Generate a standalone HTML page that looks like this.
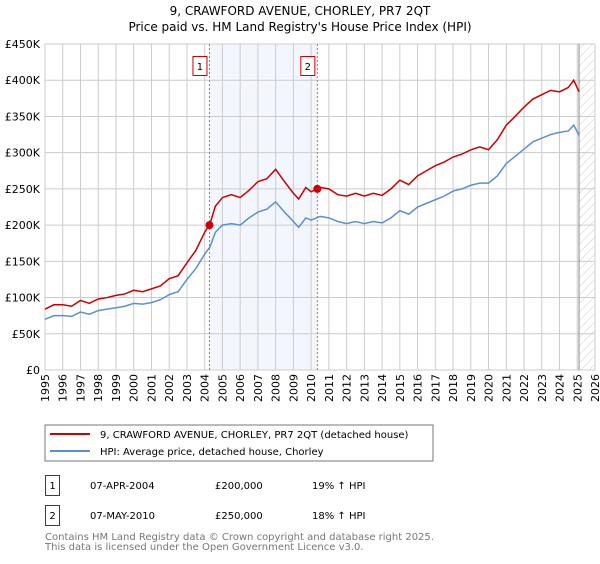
<!DOCTYPE html>
<html><head><meta charset="utf-8"><style>
body{margin:0;background:#fff;font-family:"DejaVu Sans","Liberation Sans",sans-serif;}
svg text{font-family:"DejaVu Sans","Liberation Sans",sans-serif;}
</style></head><body>
<svg id="c" width="600" height="560" xmlns="http://www.w3.org/2000/svg">
<defs><pattern id="hatch" width="6" height="6" patternUnits="userSpaceOnUse" patternTransform="rotate(45)"><line x1="0" y1="0" x2="0" y2="6" stroke="#ccc" stroke-width="1"/></pattern></defs>
<text x="300" y="15" text-anchor="middle" font-size="12">9, CRAWFORD AVENUE, CHORLEY, PR7 2QT</text>
<text x="300" y="31" text-anchor="middle" font-size="12">Price paid vs. HM Land Registry's House Price Index (HPI)</text>
<g id="grid"></g><g id="series"></g><g id="axes"></g>
<rect x="45" y="425" width="388" height="36" fill="#fff" stroke="#777"/>
<line x1="50" y1="434" x2="90" y2="434" stroke="#cc0000" stroke-width="2"/>
<text x="100" y="438" font-size="10">9, CRAWFORD AVENUE, CHORLEY, PR7 2QT (detached house)</text>
<line x1="50" y1="451" x2="90" y2="451" stroke="#5b8fd0" stroke-width="2"/>
<text x="100" y="455" font-size="10">HPI: Average price, detached house, Chorley</text>
<rect x="45.5" y="475.5" width="14" height="20" fill="#fff" stroke="#cc0000"/>
<text x="52.5" y="489" font-size="10" text-anchor="middle">1</text>
<text x="90" y="489" font-size="10">07-APR-2004</text>
<text x="215" y="489" font-size="10">£200,000</text>
<text x="312" y="489" font-size="10">19% ↑ HPI</text>
<rect x="45.5" y="505.5" width="14" height="20" fill="#fff" stroke="#cc0000"/>
<text x="52.5" y="519" font-size="10" text-anchor="middle">2</text>
<text x="90" y="519" font-size="10">07-MAY-2010</text>
<text x="215" y="519" font-size="10">£250,000</text>
<text x="312" y="519" font-size="10">18% ↑ HPI</text>
<text x="45" y="540" font-size="10" fill="#777">Contains HM Land Registry data © Crown copyright and database right 2025.</text>
<text x="45" y="550" font-size="10" fill="#777">This data is licensed under the Open Government Licence v3.0.</text>
</svg>
<script>
const years=[1995,1996,1997,1998,1999,2000,2001,2002,2003,2004,2005,2006,2007,2008,2009,2010,2011,2012,2013,2014,2015,2016,2017,2018,2019,2020,2021,2022,2023,2024,2025,2026];
const yTicks=[0,50000,100000,150000,200000,250000,300000,350000,400000,450000];
const yLabels=["£0","£50K","£100K","£150K","£200K","£250K","£300K","£350K","£400K","£450K"];
const tDates=[1995,1995.5,1996,1996.5,1997,1997.5,1998,1998.5,1999,1999.5,2000,2000.5,2001,2001.5,2002,2002.5,2003,2003.5,2004,2004.3,2004.6,2005,2005.5,2006,2006.5,2007,2007.5,2008,2008.5,2009,2009.3,2009.7,2010,2010.5,2011,2011.5,2012,2012.5,2013,2013.5,2014,2014.5,2015,2015.5,2016,2016.5,2017,2017.5,2018,2018.5,2019,2019.5,2020,2020.5,2021,2021.5,2022,2022.5,2023,2023.5,2024,2024.5,2024.8,2025.1];
const hpi=[70000,75000,75000,74000,80000,77000,82000,84000,86000,88000,92000,91000,93000,97000,104000,108000,125000,140000,160000,170000,190000,200000,202000,200000,210000,218000,222000,232000,218000,205000,197000,210000,207000,212000,210000,205000,202000,205000,202000,205000,203000,210000,220000,215000,225000,230000,235000,240000,247000,250000,255000,258000,258000,268000,285000,295000,305000,315000,320000,325000,328000,330000,338000,324000];
const price=[84000,90000,90000,88000,96000,92000,98000,100000,103000,105000,110000,108000,112000,116000,126000,130000,148000,165000,190000,202000,226000,238000,242000,238000,248000,260000,264000,277000,260000,244000,236000,252000,246000,252000,250000,242000,240000,244000,240000,244000,241000,250000,262000,256000,268000,275000,282000,287000,294000,298000,304000,308000,304000,318000,338000,350000,363000,374000,380000,386000,384000,390000,400000,384000];
const sales=[[2004.27,200000,"1"],[2010.35,250000,"2"]];
const X0=45,X1=595,Y0=370,Y1=44;
const xs=d=>X0+(d-1995)/31*(X1-X0);
const ys=v=>Y0-v/450000*(Y0-Y1);
const NS="http://www.w3.org/2000/svg";
function mk(p,t,a){const e=document.createElementNS(NS,t);for(const k in a)e.setAttribute(k,a[k]);p.appendChild(e);return e;}
const g=document.getElementById('grid'),s=document.getElementById('series'),ax=document.getElementById('axes');
let sh=mk(g,'rect',{x:xs(sales[0][0]),y:Y1,width:xs(sales[1][0])-xs(sales[0][0]),height:Y0-Y1,fill:'#eef3fc',opacity:0.7});


let ht=mk(g,'rect',{x:xs(2025.1),y:Y1,width:X1-xs(2025.1),height:Y0-Y1,fill:'url(#hatch)'});


years.forEach(y=>{const l=mk(g,'line',{x1:xs(y),x2:xs(y),y1:Y1,y2:Y0,stroke:'#ccc'});


const t=mk(ax,'text',{transform:`translate(${xs(y)+4},374) rotate(-90)`,'text-anchor':'end','font-size':11});t.textContent=y;

});
yTicks.forEach((v,i)=>{const l=mk(g,'line',{x1:X0,x2:X1,y1:ys(v),y2:ys(v),stroke:'#ccc'});


const t=mk(ax,'text',{x:40,y:ys(v)+4,'text-anchor':'end','font-size':11});t.textContent=yLabels[i];

});
let vl=mk(g,'line',{x1:xs(2025.1),x2:xs(2025.1),y1:Y1,y2:Y0,stroke:'#888'});


sales.forEach(sl=>{const l=mk(g,'line',{x1:xs(sl[0]),x2:xs(sl[0]),y1:Y1,y2:Y0,stroke:'#e06060','stroke-dasharray':'2,2'});


const b=mk(ax,'rect',{x:xs(sl[0])-16.5,y:56.5,width:14,height:19,fill:'#fff',stroke:'#cc0000'});


const t=mk(ax,'text',{x:xs(sl[0])-9.5,y:70,'text-anchor':'middle','font-size':10});t.textContent=sl[2];});
const line=(arr,col,name)=>{const p=mk(s,'polyline',{points:tDates.map((d,i)=>xs(d)+','+ys(arr[i])).join(' '),fill:'none',stroke:col,'stroke-width':1.5});

};
line(hpi,'#5b8fd0','hpi-line');line(price,'#cc0000','price-line');
sales.forEach(sl=>{const c=mk(s,'circle',{cx:xs(sl[0]),cy:ys(sl[1]),r:4,fill:'#cc0000'});

});
</script>
</body></html>
